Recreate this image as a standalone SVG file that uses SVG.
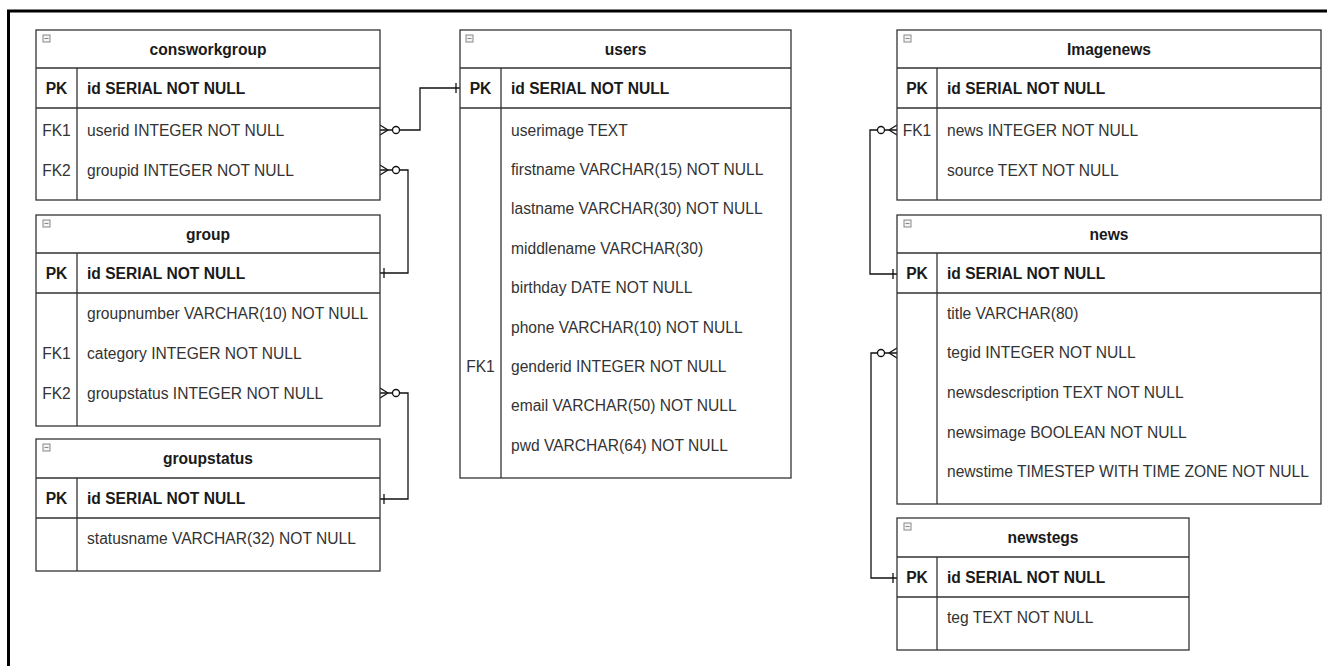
<svg xmlns="http://www.w3.org/2000/svg" width="1327" height="666" viewBox="0 0 1327 666">
<style>
text{font-family:"Liberation Sans",Arial,sans-serif;font-size:15.6px;fill:#333}
.t{font-weight:bold;fill:#1a1a1a;text-anchor:middle}
.pk{font-weight:bold;fill:#1a1a1a}
.k{text-anchor:middle}
.kb{text-anchor:middle;font-weight:bold;fill:#1a1a1a}
.box{fill:#fff;stroke:#333;stroke-width:1.3}
.ln{stroke:#333;stroke-width:1.3;fill:none}
.ic{fill:#f4f4f4;stroke:#888;stroke-width:1}
.icm{stroke:#888;stroke-width:1;fill:none}
.c{fill:none;stroke:#111;stroke-width:1.3;marker-start:url(#zm);marker-end:url(#one)}
</style>
<defs>
<marker id="zm" markerUnits="userSpaceOnUse" orient="auto" overflow="visible" refX="0" refY="0" markerWidth="20" markerHeight="12">
<path d="M0,-5 L8,0 M0,5 L8,0" fill="none" stroke="#111" stroke-width="1.3"/>
<circle cx="16" cy="0" r="3.5" fill="#fff" stroke="#111" stroke-width="1.3"/>
</marker>
<marker id="one" markerUnits="userSpaceOnUse" orient="auto" overflow="visible" refX="0" refY="0" markerWidth="10" markerHeight="12">
<path d="M-4,-5 V5" fill="none" stroke="#111" stroke-width="1.3"/>
</marker>
<g id="icon">
<rect class="ic" x="0" y="0" width="7" height="7"/>
<path class="icm" d="M1.5,3.5 H5.5"/>
</g>
</defs>
<rect width="1327" height="666" fill="#fff"/>
<path d="M8.5,666 V11 H1327" fill="none" stroke="#000" stroke-width="3"/>

<g id="connectors">
<path class="c" d="M380,130 H420 V88 H460"/>
<path class="c" d="M380,170 H408 V273 H380"/>
<path class="c" d="M380,393 H408 V499 H380"/>
<path class="c" d="M897,130 H870 V274 H897"/>
<path class="c" d="M897,353 H871 V578 H897"/>
</g>

<g id="consworkgroup">
<rect class="box" x="36" y="30" width="344" height="170"/>
<path class="ln" d="M36,68 H380 M36,108 H380 M77,68 V200"/>
<use href="#icon" x="43" y="35"/>
<text class="t" x="208" y="54.5">consworkgroup</text>
<text class="kb" x="56.5" y="93.5">PK</text>
<text class="pk" x="87" y="93.5">id SERIAL NOT NULL</text>
<text class="k" x="56.5" y="135.5">FK1</text>
<text x="87" y="135.5">userid INTEGER NOT NULL</text>
<text class="k" x="56.5" y="175.5">FK2</text>
<text x="87" y="175.5">groupid INTEGER NOT NULL</text>
</g>

<g id="group">
<rect class="box" x="36" y="215" width="344" height="211"/>
<path class="ln" d="M36,253 H380 M36,293 H380 M77,253 V426"/>
<use href="#icon" x="43" y="220"/>
<text class="t" x="208" y="239.5">group</text>
<text class="kb" x="56.5" y="278.5">PK</text>
<text class="pk" x="87" y="278.5">id SERIAL NOT NULL</text>
<text x="87" y="318.5">groupnumber VARCHAR(10) NOT NULL</text>
<text class="k" x="56.5" y="358.5">FK1</text>
<text x="87" y="358.5">category INTEGER NOT NULL</text>
<text class="k" x="56.5" y="398.5">FK2</text>
<text x="87" y="398.5">groupstatus INTEGER NOT NULL</text>
</g>

<g id="groupstatus">
<rect class="box" x="36" y="439" width="344" height="132"/>
<path class="ln" d="M36,478 H380 M36,518 H380 M77,478 V571"/>
<use href="#icon" x="43" y="444"/>
<text class="t" x="208" y="464">groupstatus</text>
<text class="kb" x="56.5" y="504">PK</text>
<text class="pk" x="87" y="504">id SERIAL NOT NULL</text>
<text x="87" y="543.5">statusname VARCHAR(32) NOT NULL</text>
</g>

<g id="users">
<rect class="box" x="460" y="30" width="331" height="448"/>
<path class="ln" d="M460,68 H791 M460,108 H791 M501,68 V478"/>
<use href="#icon" x="466" y="35"/>
<text class="t" x="625.5" y="54.5">users</text>
<text class="kb" x="480.5" y="93.5">PK</text>
<text class="pk" x="511" y="93.5">id SERIAL NOT NULL</text>
<text x="511" y="135.5">userimage TEXT</text>
<text x="511" y="175">firstname VARCHAR(15) NOT NULL</text>
<text x="511" y="214.3">lastname VARCHAR(30) NOT NULL</text>
<text x="511" y="253.7">middlename VARCHAR(30)</text>
<text x="511" y="293.1">birthday DATE NOT NULL</text>
<text x="511" y="332.5">phone VARCHAR(10) NOT NULL</text>
<text class="k" x="480.5" y="371.9">FK1</text>
<text x="511" y="371.9">genderid INTEGER NOT NULL</text>
<text x="511" y="411.3">email VARCHAR(50) NOT NULL</text>
<text x="511" y="450.7">pwd VARCHAR(64) NOT NULL</text>
</g>

<g id="imagenews">
<rect class="box" x="897" y="30" width="424" height="170"/>
<path class="ln" d="M897,68 H1321 M897,108 H1321 M937,68 V200"/>
<use href="#icon" x="904" y="35"/>
<text class="t" x="1109" y="54.5">Imagenews</text>
<text class="kb" x="917" y="93.5">PK</text>
<text class="pk" x="947" y="93.5">id SERIAL NOT NULL</text>
<text class="k" x="917" y="135.5">FK1</text>
<text x="947" y="135.5">news INTEGER NOT NULL</text>
<text x="947" y="175.5">source TEXT NOT NULL</text>
</g>

<g id="news">
<rect class="box" x="897" y="215" width="424" height="289"/>
<path class="ln" d="M897,253 H1321 M897,293 H1321 M937,253 V504"/>
<use href="#icon" x="904" y="220"/>
<text class="t" x="1109" y="239.5">news</text>
<text class="kb" x="917" y="278.5">PK</text>
<text class="pk" x="947" y="278.5">id SERIAL NOT NULL</text>
<text x="947" y="318.5">title VARCHAR(80)</text>
<text x="947" y="358.2">tegid INTEGER NOT NULL</text>
<text x="947" y="397.9">newsdescription TEXT NOT NULL</text>
<text x="947" y="437.6">newsimage BOOLEAN NOT NULL</text>
<text x="947" y="477.3">newstime TIMESTEP WITH TIME ZONE NOT NULL</text>
</g>

<g id="newstegs">
<rect class="box" x="897" y="518" width="292" height="132"/>
<path class="ln" d="M897,557 H1189 M897,597 H1189 M937,557 V650"/>
<use href="#icon" x="904" y="523"/>
<text class="t" x="1043" y="543">newstegs</text>
<text class="kb" x="917" y="583">PK</text>
<text class="pk" x="947" y="583">id SERIAL NOT NULL</text>
<text x="947" y="623">teg TEXT NOT NULL</text>
</g>
</svg>
